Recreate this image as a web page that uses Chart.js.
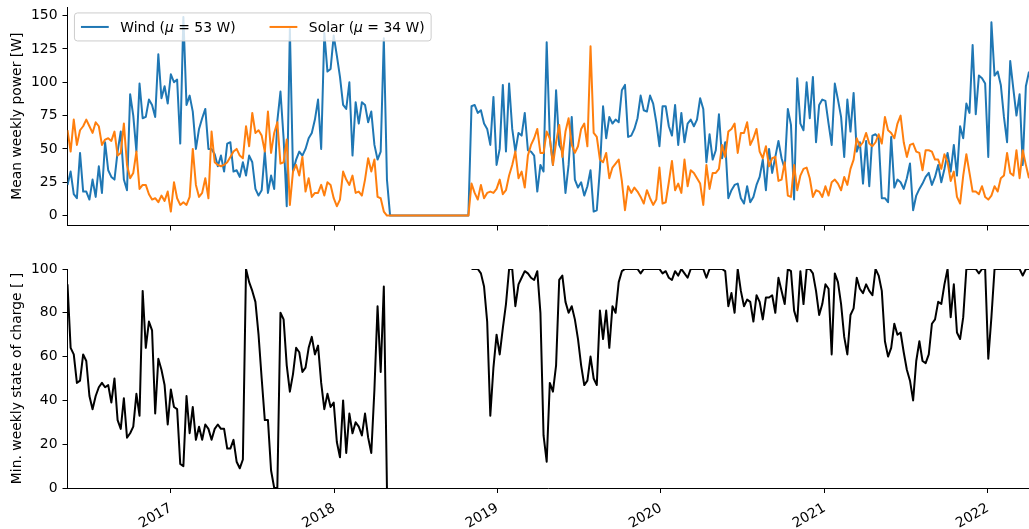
<!DOCTYPE html>
<html>
<head>
<meta charset="utf-8">
<script src="https://cdn.jsdelivr.net/npm/chart.js@4.4.1/dist/chart.umd.min.js"></script>
<style>
  html, body { margin: 0; padding: 0; background: #fff; }
  #wrap { position: relative; width: 1029px; height: 529px; overflow: hidden; }
  #wrap canvas { position: absolute; left: 0; top: 0; }
</style>
</head>
<body>
<div id="wrap">
  <canvas id="power" width="1029" height="529"></canvas>
  <canvas id="soc" width="1029" height="529"></canvas>
</div>
<script>
// Weekly series, first week starting 2016-05-15
const firstWeek = [2016, 4, 15];

const windPower = [
  23, 33, 16, 13, 47, 18, 18, 12, 27, 14,
  37, 17, 55, 34, 29, 27, 48, 63, 27, 19,
  91, 75, 48, 99, 73, 74, 87, 83, 74, 121,
  88, 97, 84, 106, 100, 102, 54, 149, 83, 90,
  78, 50, 65, 73, 80, 50, 50, 46, 37, 45,
  33, 54, 55, 33, 34, 29, 40, 30, 45, 40,
  20, 15, 19, 48, 17, 30, 20, 71, 93, 58,
  7, 140, 33, 42, 48, 45, 50, 58, 62, 72,
  87, 50, 137, 108, 110, 135, 120, 104, 83, 80,
  100, 45, 85, 69, 85, 83, 70, 78, 53, 42,
  48, 133, 27, 0, 0, 0, 0, 0, 0, 0,
  0, 0, 0, 0, 0, 0, 0, 0, 0, 0,
  0, 0, 0, 0, 0, 0, 0, 0, 0, 82,
  83, 77, 79, 69, 65, 53, 89, 38, 50, 98,
  48, 99, 65, 48, 62, 60, 77, 49, 48, 45,
  18, 38, 33, 130, 58, 38, 94, 53, 48, 17,
  38, 74, 27, 21, 25, 15, 22, 34, 3, 4,
  35, 82, 58, 74, 69, 72, 70, 94, 98, 59,
  60, 65, 73, 90, 79, 78, 90, 84, 70, 52,
  82, 82, 67, 60, 83, 53, 77, 55, 69, 72,
  67, 72, 88, 80, 40, 61, 42, 49, 76, 43,
  55, 13, 19, 23, 24, 13, 9, 22, 10, 14,
  23, 29, 42, 19, 50, 32, 44, 56, 43, 35,
  80, 68, 12, 103, 69, 64, 100, 73, 104, 55,
  83, 87, 86, 69, 53, 99, 87, 74, 44, 87,
  63, 92, 48, 55, 24, 56, 22, 60, 61, 58,
  13, 13, 10, 59, 21, 27, 25, 20, 28, 39,
  4, 15, 20, 24, 29, 32, 23, 29, 38, 25,
  35, 47, 33, 53, 30, 67, 58, 84, 77, 128,
  76, 105, 103, 99, 44, 145, 105, 108, 98, 74,
  55, 116, 95, 75, 91, 38, 97, 108
];

const solarPower = [
  64, 48, 72, 53, 64, 67, 72, 67, 62, 70,
  67, 53, 57, 58, 56, 63, 45, 47, 69, 38,
  28, 32, 48, 20, 23, 23, 16, 12, 13, 10,
  15, 11, 18, 3, 25, 13, 8, 10, 8, 14,
  50, 23, 14, 17, 28, 13, 63, 40, 38, 37,
  38, 40, 44, 48, 50, 45, 43, 67, 52, 77,
  62, 64, 60, 48, 78, 47, 62, 70, 39, 40,
  57, 8, 33, 38, 30, 44, 18, 28, 14, 17,
  17, 23, 15, 25, 23, 13, 7, 12, 33, 27,
  23, 30, 17, 18, 15, 27, 43, 33, 42, 14,
  13, 3, 0, 0, 0, 0, 0, 0, 0, 0,
  0, 0, 0, 0, 0, 0, 0, 0, 0, 0,
  0, 0, 0, 0, 0, 0, 0, 0, 0, 24,
  17, 12, 23, 13, 17, 18, 17, 20, 27, 16,
  19, 30, 38, 48, 28, 33, 21, 45, 53, 58,
  65, 47, 47, 63, 58, 38, 55, 68, 44, 63,
  73, 53, 47, 52, 65, 69, 52, 127, 62, 59,
  42, 40, 47, 28, 36, 39, 42, 26, 4, 22,
  17, 21, 18, 14, 9, 19, 13, 8, 12, 36,
  9, 10, 25, 41, 19, 24, 17, 42, 22, 34,
  32, 28, 24, 8, 38, 20, 32, 32, 35, 53,
  44, 63, 65, 69, 47, 62, 62, 70, 53, 58,
  65, 48, 43, 52, 37, 43, 44, 26, 27, 40,
  15, 14, 38, 19, 30, 35, 36, 28, 14, 19,
  18, 14, 22, 15, 25, 27, 24, 19, 29, 23,
  35, 42, 58, 52, 55, 62, 54, 52, 55, 61,
  54, 74, 64, 62, 58, 69, 75, 55, 44, 53,
  54, 48, 47, 34, 49, 49, 48, 42, 42, 35,
  46, 40, 26, 33, 14, 9, 30, 46, 32, 18,
  18, 16, 22, 14, 12, 15, 22, 18, 28, 30,
  47, 32, 30, 49, 28, 49, 38, 28
];

// null = no battery record for that week
const minSoc = [
  93, 64, 61, 48, 49, 61, 58, 42, 36, 42,
  46, 48, 46, 47, 39, 50, 31, 27, 41, 23,
  25, 28, 43, 33, 90, 64, 76, 72, 34, 59,
  54, 47, 29, 45, 37, 36, 11, 10, 42, 25,
  37, 22, 28, 22, 29, 27, 22, 27, 29, 27,
  27, 18, 18, 22, 12, 9, 13, 100, 94, 90,
  85, 70, 50, 31, 31, 8, 0, 0, 80, 77,
  56, 44, 52, 64, 62, 53, 55, 64, 69, 61,
  65, 48, 36, 43, 37, 39, 21, 14, 40, 16,
  34, 25, 30, 28, 24, 34, 23, 16, 45, 83,
  53, 92, 0, null, null, null, null, null, null, null,
  null, null, null, null, null, null, null, null, null, null,
  null, null, null, null, null, null, null, null, null, 100,
  100, 100, 98, 92, 76, 33, 55, 70, 61, 73,
  84, 100, 100, 83, 93, 96, 99, 98, 96, 95,
  99, 80, 24, 12, 48, 44, 56, 95, 97, 85,
  80, 83, 77, 68, 56, 47, 49, 60, 50, 47,
  81, 68, 81, 64, 83, 80, 94, 99, 100, 100,
  100, 100, 100, 98, 100, 100, 100, 100, 100, 100,
  98, 99, 96, 95, 99, 97, 100, 98, 96, 100,
  100, 100, 100, 100, 96, 100, 100, 100, 100, 100,
  99, 83, 89, 80, 100, 90, 83, 86, 85, 76,
  88, 85, 77, 87, 87, 88, 80, 96, 90, 84,
  100, 99, 81, 76, 99, 84, 100, 100, 98, 90,
  79, 84, 93, 91, 61, 98, 94, 84, 69, 61,
  79, 82, 96, 91, 89, 93, 90, 88, 100, 97,
  90, 67, 60, 64, 75, 70, 71, 62, 54, 49,
  40, 58, 67, 58, 57, 61, 75, 77, 85, 84,
  93, 100, 78, 93, 71, 68, 78, 100, 100, 100,
  100, 98, 100, 100, 59, 78, 100, 100, 100, 100,
  100, 100, 100, 100, 100, 97, 100, 100
];

const seriesNames = ['Wind', 'Solar'];
const seriesMeans = [53, 34];
const seriesColors = ['#1f77b4', '#ff7f0e'];

const yearTicks = [2017, 2018, 2019, 2020, 2021, 2022];
const powerTicks = [0, 25, 50, 75, 100, 125, 150];
const socTicks = [0, 20, 40, 60, 80, 100];

// ---------------------------------------------------------------
const DAY = 86400000;
const FONT = 'DejaVu Sans';
const FS = 13.9;
Chart.defaults.font.family = FONT;
Chart.defaults.font.size = FS;
Chart.defaults.color = '#000';

const startDay = Date.UTC(firstWeek[0], firstWeek[1], firstWeek[2]) / DAY;
const weekDays = windPower.map((_, i) => startDay + 7 * i);
const toPoints = arr => arr.map((v, i) => ({ x: weekDays[i], y: v }));

const W = 1029, H = 529;
const LEFT = 67.5;

// keep the plot area exactly where the layout padding puts it
function noEdgePadding(s) {
  s.paddingTop = 0; s.paddingBottom = 0; s.paddingLeft = 0; s.paddingRight = 0;
}

function timeAxis(showLabels, axisHeight) {
  return {
    type: 'linear',
    min: weekDays[0],
    max: weekDays[weekDays.length - 1],
    grid: { display: true, drawOnChartArea: false, drawTicks: true, tickLength: 5, tickWidth: 1, tickColor: '#000' },
    border: { display: true, color: '#000', width: 1 },
    ticks: {
      display: showLabels, autoSkip: false, minRotation: 30, maxRotation: 30,
      padding: 7, color: '#000', font: { size: FS },
      callback: v => String(new Date(v * DAY).getUTCFullYear())
    },
    afterBuildTicks: s => { s.ticks = yearTicks.map(y => ({ value: Date.UTC(y, 0, 1) / DAY })); },
    afterFit: s => { s.height = axisHeight; noEdgePadding(s); }
  };
}

function valueAxis(min, max, ticks, title) {
  return {
    type: 'linear', min, max,
    grid: { display: true, drawOnChartArea: false, drawTicks: true, tickLength: 5, tickWidth: 1, tickColor: '#000' },
    border: { display: true, color: '#000', width: 1 },
    ticks: { padding: 5, color: '#000', font: { size: FS } },
    afterBuildTicks: s => { s.ticks = ticks.map(v => ({ value: v })); },
    afterFit: s => { s.width = LEFT; noEdgePadding(s); },
    title: { display: true, text: title, color: '#000', font: { size: FS }, padding: { top: 9, bottom: 0 } }
  };
}

// Framed two-column legend in the upper-left corner of the power panel
const powerLegend = {
  id: 'powerLegend',
  afterDatasetsDraw(chart) {
    const ctx = chart.ctx, a = chart.chartArea;
    const pad = 6.5, handle = 2.0 * FS, gap = 11.5, colGap = 34;
    const x0 = a.left + 0.5 * FS, y0 = a.top + 0.5 * FS - 1;
    const h = 28;
    const normal = `${FS}px "${FONT}"`, italic = `italic ${FS}px "${FONT}"`;

    // measure every entry: "Name (" + μ + " = NN W)"
    const entries = seriesNames.map((name, i) => {
      const parts = [[`${name} (`, normal], ['\u03bc', italic], [` = ${seriesMeans[i]} W)`, normal]];
      let w = 0;
      parts.forEach(p => { ctx.font = p[1]; p.push(ctx.measureText(p[0]).width); w += p[2]; });
      return { parts, w, color: seriesColors[i] };
    });
    let width = pad * 2;
    entries.forEach((e, i) => { width += handle + gap + e.w + (i ? colGap : 0); });

    ctx.save();
    const r = 3;
    ctx.beginPath();
    ctx.moveTo(x0 + r, y0);
    ctx.arcTo(x0 + width, y0, x0 + width, y0 + h, r);
    ctx.arcTo(x0 + width, y0 + h, x0, y0 + h, r);
    ctx.arcTo(x0, y0 + h, x0, y0, r);
    ctx.arcTo(x0, y0, x0 + width, y0, r);
    ctx.closePath();
    ctx.fillStyle = 'rgba(255,255,255,0.8)';
    ctx.fill();
    ctx.strokeStyle = '#cccccc';
    ctx.lineWidth = 1;
    ctx.stroke();

    const cy = y0 + h / 2;
    let x = x0 + pad;
    entries.forEach((e, i) => {
      if (i) x += colGap;
      ctx.strokeStyle = e.color;
      ctx.lineWidth = 2;
      ctx.beginPath();
      ctx.moveTo(x, cy);
      ctx.lineTo(x + handle, cy);
      ctx.stroke();
      x += handle + gap;
      ctx.fillStyle = '#000';
      ctx.textBaseline = 'middle';
      ctx.textAlign = 'left';
      e.parts.forEach(p => { ctx.font = p[1]; ctx.fillText(p[0], x, cy + 1); x += p[2]; });
    });
    ctx.restore();
  }
};

const common = {
  responsive: false,
  animation: false,
  devicePixelRatio: 1,
  plugins: { legend: { display: false }, tooltip: { enabled: false } },
  elements: { point: { radius: 0 }, line: { tension: 0, borderJoinStyle: 'round', borderCapStyle: 'butt' } }
};

// Top panel: mean weekly power
const powerTop = 7, powerBottom = 225.5, powerAxisH = 10;
new Chart(document.getElementById('power'), {
  type: 'line',
  data: {
    datasets: [
      { label: seriesNames[0], data: toPoints(windPower), borderColor: seriesColors[0], borderWidth: 2, fill: false, order: 1 },
      { label: seriesNames[1], data: toPoints(solarPower), borderColor: seriesColors[1], borderWidth: 2, fill: false, order: 0 }
    ]
  },
  options: Object.assign({}, common, {
    layout: { padding: { top: powerTop, left: 0, right: 0, bottom: H - powerBottom - powerAxisH } },
    scales: {
      x: timeAxis(false, powerAxisH),
      y: valueAxis(-7.45, 156.45, powerTicks, 'Mean weekly power [W]')
    }
  }),
  plugins: [powerLegend]
});

// Bottom panel: minimum weekly state of charge
const socTop = 269, socBottom = 488, socAxisH = 40;
new Chart(document.getElementById('soc'), {
  type: 'line',
  data: {
    datasets: [
      { label: 'SOC', data: toPoints(minSoc), borderColor: '#000', borderWidth: 2, fill: false, spanGaps: false }
    ]
  },
  options: Object.assign({}, common, {
    layout: { padding: { top: socTop, left: 0, right: 0, bottom: H - socBottom - socAxisH } },
    scales: {
      x: timeAxis(true, socAxisH),
      y: valueAxis(0, 100, socTicks, 'Min. weekly state of charge [ ]')
    }
  })
});
</script>
</body>
</html>
